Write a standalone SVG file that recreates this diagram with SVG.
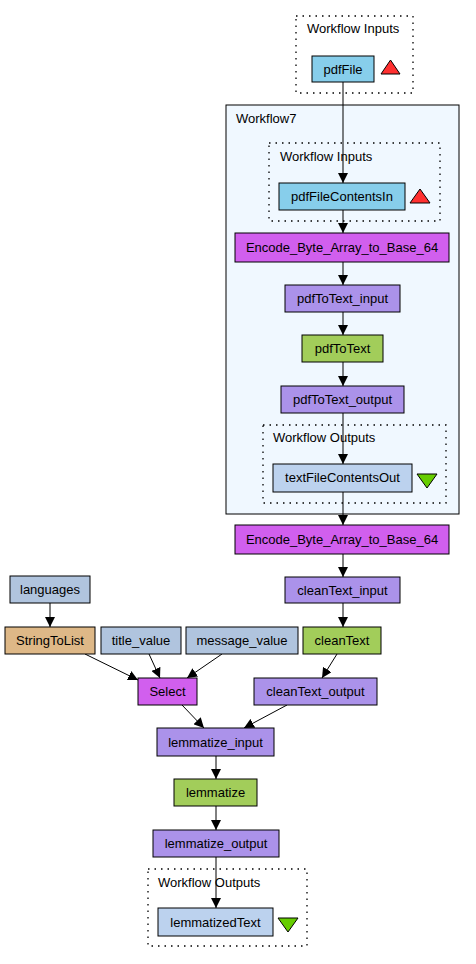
<svg xmlns="http://www.w3.org/2000/svg" width="476" height="964" viewBox="0 0 476 964">
<style>
text{font-family:"Liberation Sans",Arial,sans-serif;font-size:13px;fill:#000}
.n text{text-anchor:middle}
.n rect{stroke:#000;stroke-width:1}
.cl{fill:none;stroke:#000;stroke-width:1.3;stroke-dasharray:1.5,5}
.in{fill:#87ceeb}.mg{fill:#d15fee}.pu{fill:#ab92ea}.gr{fill:#a2cd5a}.sb{fill:#b0c4de}.bw{fill:#deb887}.ou{fill:#bcd2ee}
.e path{fill:none;stroke:#000;stroke-width:1}
</style>
<defs>
<marker id="a" viewBox="0 0 10 10" refX="10" refY="5" markerWidth="10" markerHeight="10" markerUnits="userSpaceOnUse" orient="auto">
<path d="M0,0 L10,5 L0,10 z" fill="#000"/>
</marker>
</defs>
<rect width="476" height="964" fill="#fff"/>
<g id="cluster_wf7">
<rect x="226" y="105" width="233" height="409" fill="#f0f8ff" stroke="#000" stroke-width="1"/>
<text x="236" y="123">Workflow7</text>
</g>
<g id="cluster_inputs_top"><rect class="cl" x="296" y="16" width="117" height="77"/><text x="307" y="33">Workflow Inputs</text></g>
<g id="cluster_inputs_inner"><rect class="cl" x="269" y="143" width="171" height="78"/><text x="280" y="161">Workflow Inputs</text></g>
<g id="cluster_outputs_inner"><rect class="cl" x="263" y="425" width="183" height="78"/><text x="273" y="442">Workflow Outputs</text></g>
<g id="cluster_outputs_bottom"><rect class="cl" x="148" y="869" width="159" height="77"/><text x="158" y="887">Workflow Outputs</text></g>
<g class="e" id="connectors">
<path d="M343,82 V183" marker-end="url(#a)"/>
<path d="M343,210 V233" marker-end="url(#a)"/>
<path d="M343,262 V285" marker-end="url(#a)"/>
<path d="M343,312 V335" marker-end="url(#a)"/>
<path d="M343,362 V386" marker-end="url(#a)"/>
<path d="M343,413 V464" marker-end="url(#a)"/>
<path d="M343,492 V525" marker-end="url(#a)"/>
<path d="M343,554 V577" marker-end="url(#a)"/>
<path d="M343,603 V627" marker-end="url(#a)"/>
<path d="M337,654 L322,678" marker-end="url(#a)"/>
<path d="M50,603 V627" marker-end="url(#a)"/>
<path d="M85,654 L138,680" marker-end="url(#a)"/>
<path d="M149,654 L160,678" marker-end="url(#a)"/>
<path d="M222,654 L187,678" marker-end="url(#a)"/>
<path d="M182,705 L204,728" marker-end="url(#a)"/>
<path d="M287,705 L244,728" marker-end="url(#a)"/>
<path d="M216,756 V779" marker-end="url(#a)"/>
<path d="M216,806 V830" marker-end="url(#a)"/>
<path d="M216,857 V908" marker-end="url(#a)"/>
</g>
<g class="n" id="pdfFile"><rect class="in" x="312" y="56" width="62" height="26"/><text x="343" y="73.5">pdfFile</text></g>
<g id="pdfFile_tri"><polygon points="381,74 400,74 390.5,60" fill="#ff3030" stroke="#000"/></g>
<g class="n" id="pdfFileContentsIn"><rect class="in" x="279" y="183" width="126" height="27"/><text x="342" y="201">pdfFileContentsIn</text></g>
<g id="pdfFileContentsIn_tri"><polygon points="410,203 430,203 420,189" fill="#ff3030" stroke="#000"/></g>
<g class="n" id="Encode_inner"><rect class="mg" x="235" y="233" width="214" height="29"/><text x="342" y="252">Encode_Byte_Array_to_Base_64</text></g>
<g class="n" id="pdfToText_input"><rect class="pu" x="285" y="285" width="115" height="27"/><text x="342.5" y="303">pdfToText_input</text></g>
<g class="n" id="pdfToText"><rect class="gr" x="302" y="335" width="81" height="27"/><text x="342.5" y="353">pdfToText</text></g>
<g class="n" id="pdfToText_output"><rect class="pu" x="281" y="386" width="123" height="27"/><text x="342.5" y="404">pdfToText_output</text></g>
<g class="n" id="textFileContentsOut"><rect class="ou" x="273" y="464" width="139" height="28"/><text x="342.5" y="482">textFileContentsOut</text></g>
<g id="textFileContentsOut_tri"><polygon points="417,474 437,474 427,488" fill="#66cd00" stroke="#000"/></g>
<g class="n" id="Encode_outer"><rect class="mg" x="235" y="525" width="214" height="29"/><text x="342" y="544">Encode_Byte_Array_to_Base_64</text></g>
<g class="n" id="cleanText_input"><rect class="pu" x="285" y="577" width="115" height="26"/><text x="342.5" y="594.5">cleanText_input</text></g>
<g class="n" id="cleanText"><rect class="gr" x="303" y="627" width="78" height="27"/><text x="342" y="645">cleanText</text></g>
<g class="n" id="cleanText_output"><rect class="pu" x="254" y="678" width="123" height="27"/><text x="315.5" y="696">cleanText_output</text></g>
<g class="n" id="languages"><rect class="sb" x="10" y="576" width="80" height="27"/><text x="50" y="594">languages</text></g>
<g class="n" id="StringToList"><rect class="bw" x="5" y="627" width="90" height="27"/><text x="50" y="645">StringToList</text></g>
<g class="n" id="title_value"><rect class="sb" x="101" y="627" width="80" height="27"/><text x="141" y="645">title_value</text></g>
<g class="n" id="message_value"><rect class="sb" x="186" y="627" width="112" height="27"/><text x="242" y="645">message_value</text></g>
<g class="n" id="Select"><rect class="mg" x="138" y="678" width="59" height="27"/><text x="167.5" y="696">Select</text></g>
<g class="n" id="lemmatize_input"><rect class="pu" x="157" y="728" width="117" height="28"/><text x="215.5" y="746.5">lemmatize_input</text></g>
<g class="n" id="lemmatize"><rect class="gr" x="174" y="779" width="83" height="27"/><text x="215.5" y="797">lemmatize</text></g>
<g class="n" id="lemmatize_output"><rect class="pu" x="153" y="830" width="126" height="27"/><text x="216" y="848">lemmatize_output</text></g>
<g class="n" id="lemmatizedText"><rect class="ou" x="158" y="908" width="115" height="28"/><text x="215.5" y="926.5">lemmatizedText</text></g>
<g id="lemmatizedText_tri"><polygon points="278,918 298,918 288,932" fill="#66cd00" stroke="#000"/></g>
</svg>
